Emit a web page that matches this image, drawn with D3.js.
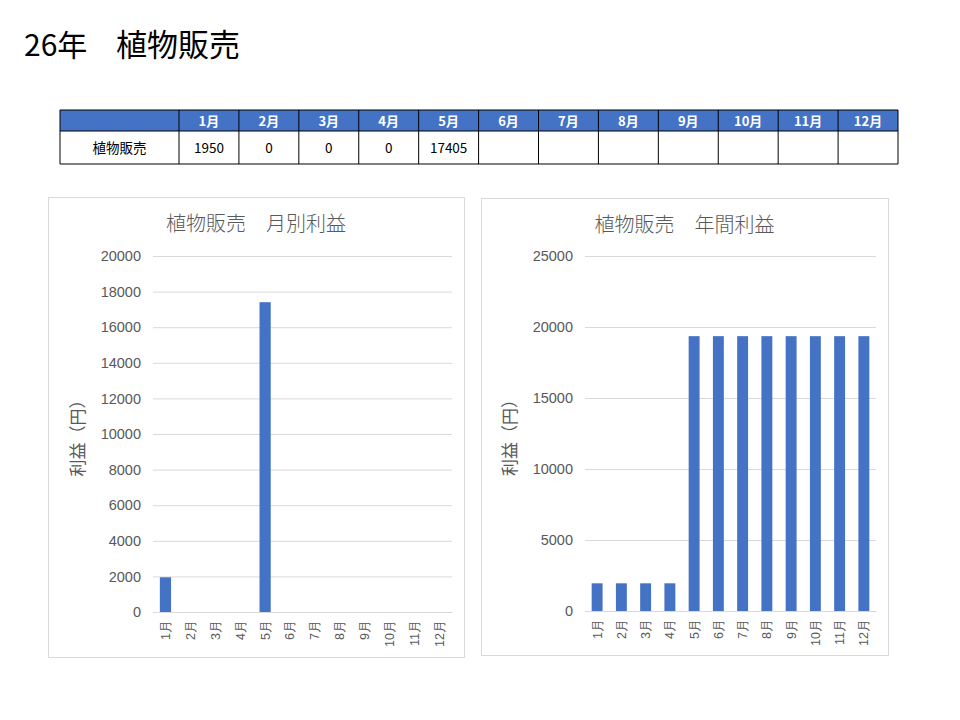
<!DOCTYPE html>
<html>
<head>
<meta charset="utf-8">
<script src="https://cdn.jsdelivr.net/npm/d3@7"></script>
<style>
body { margin: 0; background: #fff; }
svg { font-family: "Noto Sans CJK JP", "Noto Sans", sans-serif; }
</style>
</head>
<body>
<svg id="page" width="960" height="720"></svg>
<script>
var months = ["1月","2月","3月","4月","5月","6月","7月","8月","9月","10月","11月","12月"];
var monthlyProfit = [1950, 0, 0, 0, 17405, null, null, null, null, null, null, null];
var annualProfit = [1950, 1950, 1950, 1950, 19355, 19355, 19355, 19355, 19355, 19355, 19355, 19355];
var monthlyTicks = [0, 2000, 4000, 6000, 8000, 10000, 12000, 14000, 16000, 18000, 20000];
var annualTicks = [0, 5000, 10000, 15000, 20000, 25000];
var rowLabel = "植物販売";

var svg = d3.select("#page");
var blue = "#4472C4";
var grey = "#595959";

// page title
svg.append("text")
    .attr("x", 24).attr("y", 56)
    .attr("font-size", 30)
    .attr("fill", "#000")
    .text("26年");
svg.append("text")
    .attr("x", 116).attr("y", 56)
    .attr("font-size", 31)
    .attr("fill", "#000")
    .text(rowLabel);

// table
var tx0 = 60, tx1 = 898, ty = 110, hh = 21, rh = 33, firstW = 119;
var colX = d3.scaleBand().domain(months).range([tx0 + firstW, tx1]);
var table = svg.append("g");

table.append("rect")
    .attr("x", tx0).attr("y", ty).attr("width", tx1 - tx0).attr("height", hh)
    .attr("fill", blue);

table.selectAll("text.head")
    .data(months)
    .enter().append("text")
    .attr("class", "head")
    .attr("x", d => colX(d) + colX.bandwidth() / 2)
    .attr("y", ty + hh / 2 + 5)
    .attr("text-anchor", "middle")
    .attr("font-size", 13).attr("font-weight", "bold")
    .attr("fill", "#fff")
    .text(d => d);

table.append("text")
    .attr("x", tx0 + firstW / 2).attr("y", ty + hh + rh / 2 + 5)
    .attr("text-anchor", "middle").attr("font-size", 13.5).attr("fill", "#000")
    .text(rowLabel);

table.selectAll("text.val")
    .data(months)
    .enter().append("text")
    .attr("class", "val")
    .attr("x", d => colX(d) + colX.bandwidth() / 2)
    .attr("y", ty + hh + rh / 2 + 5)
    .attr("text-anchor", "middle").attr("font-size", 13.5).attr("fill", "#000")
    .text((d, i) => monthlyProfit[i] == null ? "" : monthlyProfit[i]);

// grid lines of table
var vx = [tx0, tx0 + firstW].concat(months.map(m => colX(m) + colX.bandwidth()));
table.selectAll("line.v")
    .data(vx)
    .enter().append("line")
    .attr("x1", d => d).attr("x2", d => d)
    .attr("y1", ty).attr("y2", ty + hh + rh)
    .attr("stroke", "#000").attr("stroke-width", 1);
[ty, ty + hh, ty + hh + rh].forEach(function (y) {
    table.append("line")
        .attr("x1", tx0).attr("x2", tx1).attr("y1", y).attr("y2", y)
        .attr("stroke", "#000").attr("stroke-width", 1);
});

function drawChart(opt) {
    var g = svg.append("g");
    g.append("rect")
        .attr("x", opt.box[0] + 0.5).attr("y", opt.box[1] + 0.5)
        .attr("width", opt.box[2]).attr("height", opt.box[3])
        .attr("fill", "#fff").attr("stroke", "#d9d9d9");

    g.append("text")
        .attr("x", opt.box[0] + opt.box[2] / 2).attr("y", opt.box[1] + 34)
        .attr("text-anchor", "middle").attr("font-size", 20).attr("font-weight", 300).attr("fill", grey)
        .text(opt.title);

    var x = d3.scaleBand().domain(months).range([opt.left, opt.right]).paddingInner(opt.pad).paddingOuter(opt.pad / 2);
    var y = d3.scaleLinear().domain([0, opt.max]).range([opt.bottom, opt.top]);

    var yAxis = g.append("g")
        .attr("transform", "translate(" + opt.left + ",0)")
        .call(d3.axisLeft(y).tickValues(opt.ticks).tickSize(-(opt.right - opt.left)).tickPadding(12).tickFormat(d3.format("d")));
    yAxis.select(".domain").remove();
    yAxis.selectAll("line").attr("stroke", "#d9d9d9");
    yAxis.selectAll("text").attr("font-size", 14.5).attr("fill", grey).attr("font-family", "inherit");

    g.selectAll("rect.bar")
        .data(opt.values.map((v, i) => ({k: months[i], v: v})).filter(d => d.v != null))
        .enter().append("rect")
        .attr("class", "bar")
        .attr("x", d => x(d.k))
        .attr("width", x.bandwidth())
        .attr("y", d => y(d.v))
        .attr("height", d => opt.bottom - y(d.v))
        .attr("fill", blue);

    var xAxis = g.append("g")
        .attr("transform", "translate(0," + opt.bottom + ")")
        .call(d3.axisBottom(x).tickSize(0).tickPadding(0));
    xAxis.select(".domain").attr("stroke", "#d9d9d9");
    xAxis.selectAll("text")
        .attr("font-size", 12.5).attr("fill", grey).attr("font-family", "inherit")
        .attr("transform", "rotate(-90)")
        .attr("x", -8).attr("y", 0).attr("dy", "0.35em")
        .style("text-anchor", "end");

    g.append("text")
        .attr("transform", "translate(" + opt.ytitleX + "," + ((opt.top + opt.bottom) / 2) + ") rotate(-90)")
        .attr("text-anchor", "middle").attr("font-size", 17).attr("fill", grey)
        .text("利益（円）");
}

drawChart({
    box: [48, 197, 416, 460],
    title: "植物販売　月別利益",
    left: 153, right: 452, top: 256, bottom: 612,
    max: 20000, ticks: monthlyTicks, values: monthlyProfit, pad: 0.55, ytitleX: 84
});

drawChart({
    box: [481, 198, 407, 457],
    title: "植物販売　年間利益",
    left: 585, right: 876, top: 256, bottom: 611,
    max: 25000, ticks: annualTicks, values: annualProfit, pad: 0.55, ytitleX: 516
});
</script>
</body>
</html>
